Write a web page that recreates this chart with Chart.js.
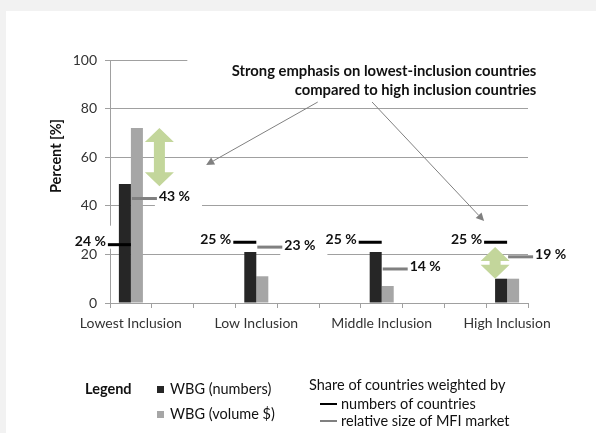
<!DOCTYPE html>
<html>
<head>
<meta charset="utf-8">
<script src="https://cdn.jsdelivr.net/npm/chart.js@4/dist/chart.umd.min.js"></script>
<style>
  html, body { margin: 0; padding: 0; background: #f2f2f2; }
  body { width: 596px; height: 433px; position: relative; overflow: hidden; font-family: Lato, sans-serif; color: #111; }
  #panel { position: absolute; left: 6px; top: 11px; right: 0; bottom: 0; background: #fff; }
  #c { position: absolute; left: 0; top: 0; }
  .lg { position: absolute; font-size: 14.5px; line-height: 16px; white-space: nowrap; }
  .sq { display: inline-block; width: 7px; height: 7px; margin-right: 6px; vertical-align: 1px; }
  .ln { display: inline-block; width: 17px; height: 2px; margin-right: 4px; vertical-align: 4px; }
</style>
</head>
<body>
<div id="panel"></div>
<canvas id="c" width="596" height="433"></canvas>

<div class="lg" style="left:85px; top:381px; font-weight:bold;">Legend</div>
<div class="lg" style="left:157px; top:381px;"><span class="sq" style="background:#262626"></span>WBG (numbers)</div>
<div class="lg" style="left:157px; top:406px;"><span class="sq" style="background:#a6a6a6"></span>WBG (volume $)</div>
<div class="lg" style="left:309px; top:377px;">Share of countries weighted by</div>
<div class="lg" style="left:320px; top:396px;"><span class="ln" style="background:#000"></span>numbers of countries</div>
<div class="lg" style="left:320px; top:413px;"><span class="ln" style="background:#808080"></span>relative size of MFI market</div>

<script>
/* ── Données ── */
const GROUPS      = ['Lowest Inclusion', 'Low Inclusion', 'Middle Inclusion', 'High Inclusion'];
const WBG_NUM     = [49, 21, 21, 10];   // WBG (numbers) %
const WBG_VOL     = [72, 11, 7, 10];    // WBG (volume $) %
const SHARE_COUNT = [24, 25, 25, 25];   // part pondérée par nombre de pays
const SHARE_MFI   = [43, 23, 14, 19];   // part pondérée par taille du marché MFI
const GAP_ARROWS  = [{ g: 0, from: 72, to: 48 }, { g: 3, from: 23, to: 10 }];
const NOTE        = ['Strong emphasis on lowest-inclusion countries', 'compared to high inclusion countries'];

/* chaque groupe occupe une case, suivie de deux cases vides */
const SLOT = 3;
const labels = [], numData = [], volData = [];
GROUPS.forEach((g, i) => {
  labels.push(g); numData.push(WBG_NUM[i]); volData.push(WBG_VOL[i]);
  if (i < GROUPS.length - 1) for (let k = 1; k < SLOT; k++) { labels.push(''); numData.push(null); volData.push(null); }
});

const FONT = 'Lato, sans-serif';
const GRID = '#a0a0a0';

function dblArrow(ctx, cx, y1, y2) {
  const hw = 14.5, hh = 14, sw = 5.5;
  ctx.beginPath();
  ctx.moveTo(cx, y1);
  ctx.lineTo(cx + hw, y1 + hh); ctx.lineTo(cx + sw, y1 + hh);
  ctx.lineTo(cx + sw, y2 - hh); ctx.lineTo(cx + hw, y2 - hh);
  ctx.lineTo(cx, y2);
  ctx.lineTo(cx - hw, y2 - hh); ctx.lineTo(cx - sw, y2 - hh);
  ctx.lineTo(cx - sw, y1 + hh); ctx.lineTo(cx - hw, y1 + hh);
  ctx.closePath();
  ctx.fillStyle = '#c3d69b';
  ctx.fill();
}

function pointer(ctx, x1, y1, x2, y2) {
  const a = Math.atan2(y2 - y1, x2 - x1), L = 8, W = 4;
  ctx.strokeStyle = '#808080'; ctx.fillStyle = '#808080'; ctx.lineWidth = 1;
  ctx.beginPath(); ctx.moveTo(x1, y1);
  ctx.lineTo(x2 - L * Math.cos(a), y2 - L * Math.sin(a)); ctx.stroke();
  ctx.beginPath(); ctx.moveTo(x2, y2);
  ctx.lineTo(x2 - L * Math.cos(a) + W * Math.sin(a), y2 - L * Math.sin(a) - W * Math.cos(a));
  ctx.lineTo(x2 - L * Math.cos(a) - W * Math.sin(a), y2 - L * Math.sin(a) + W * Math.cos(a));
  ctx.closePath(); ctx.fill();
}

const overlay = {
  id: 'overlay',
  afterDatasetsDraw(chart) {
    const { ctx, scales: { x, y } } = chart;
    ctx.save();

    /* ── boîte blanche du commentaire ── */
    ctx.fillStyle = '#fff';
    ctx.fillRect(x.getPixelForValue(1.35), y.getPixelForValue(102), 360, y.getPixelForValue(88) - y.getPixelForValue(102) + 10);

    /* ── marqueurs de parts ── */
    ctx.font = 'bold 14px ' + FONT;
    ctx.textBaseline = 'middle';
    GROUPS.forEach((g, i) => {
      const cx = x.getPixelForValue(i * SLOT);
      const yc = y.getPixelForValue(SHARE_COUNT[i]);
      const ym = y.getPixelForValue(SHARE_MFI[i]);
      const lc = SHARE_COUNT[i] + ' %', lm = SHARE_MFI[i] + ' %';
      const wc = ctx.measureText(lc).width, wm = ctx.measureText(lm).width;
      // fonds blancs des étiquettes
      ctx.fillStyle = '#fff';
      ctx.fillRect(cx - 23 - wc - 6, yc - 19, wc + 10, 23);
      ctx.fillRect(cx + 24, ym - 12, wm + 16, 23);
      // traits
      ctx.fillStyle = '#000';
      ctx.fillRect(cx - 23, yc - 1.5, 23, 3);
      ctx.fillStyle = '#808080';
      ctx.fillRect(cx + 1, ym - 1.5, 25, 3);
      // textes
      ctx.fillStyle = '#111';
      ctx.textAlign = 'right';
      ctx.fillText(lc, cx - 25, yc - 3);
      ctx.textAlign = 'left';
      ctx.fillText(lm, cx + 28, ym - 2);
    });

    /* ── flèches vertes ── */
    GAP_ARROWS.forEach(a => {
      const cx = x.getPixelForValue(a.g * SLOT) + (a.g === 0 ? 28.5 : -12);
      dblArrow(ctx, cx, y.getPixelForValue(a.from), y.getPixelForValue(a.to));
    });

    /* ── commentaire et flèches grises ── */
    pointer(ctx, x.getPixelForValue(4.47), y.getPixelForValue(82.7), x.getPixelForValue(1.8), y.getPixelForValue(56.8));
    pointer(ctx, x.getPixelForValue(5.77), y.getPixelForValue(82.7), x.getPixelForValue(8.45), y.getPixelForValue(33.7));
    ctx.fillStyle = '#111';
    ctx.font = 'bold 14.8px ' + FONT;
    ctx.textAlign = 'right';
    ctx.fillText(NOTE[0], x.getPixelForValue(9.7), y.getPixelForValue(95.5));
    ctx.fillText(NOTE[1], x.getPixelForValue(9.7), y.getPixelForValue(87.7));

    /* ── titre de l'axe Y ── */
    ctx.translate(56, y.getPixelForValue(60.5));
    ctx.rotate(-Math.PI / 2);
    ctx.textAlign = 'center';
    ctx.font = 'bold 14.5px ' + FONT;
    ctx.fillText('Percent [%]', 0, 0);
    ctx.restore();
  }
};

new Chart(document.getElementById('c'), {
  type: 'bar',
  data: {
    labels,
    datasets: [
      { label: 'WBG (numbers)', data: numData, backgroundColor: '#262626', borderWidth: 0 },
      { label: 'WBG (volume $)', data: volData, backgroundColor: '#a6a6a6', borderWidth: 0 },
    ],
  },
  options: {
    responsive: false,
    animation: false,
    events: [],
    layout: { padding: { top: 60, right: 68, bottom: 100, left: 0 } },
    datasets: { bar: { categoryPercentage: 0.575, barPercentage: 1 } },
    plugins: { legend: { display: false }, tooltip: { enabled: false } },
    scales: {
      x: {
        afterFit: s => { s.height = 30; },
        grid: { drawOnChartArea: false, drawTicks: true, tickLength: 5, color: GRID, offset: true },
        border: { color: GRID },
        ticks: { autoSkip: false, maxRotation: 0, minRotation: 0, padding: 7, color: '#333', font: { family: FONT, size: 14 } },
      },
      y: {
        min: 0, max: 100,
        afterFit: s => { s.width = 110; },
        grid: { color: GRID, tickLength: 5 },
        border: { color: GRID },
        ticks: { stepSize: 20, padding: 8, color: '#333', font: { family: FONT, size: 14 } },
      },
    },
  },
  plugins: [overlay],
});
</script>
</body>
</html>
